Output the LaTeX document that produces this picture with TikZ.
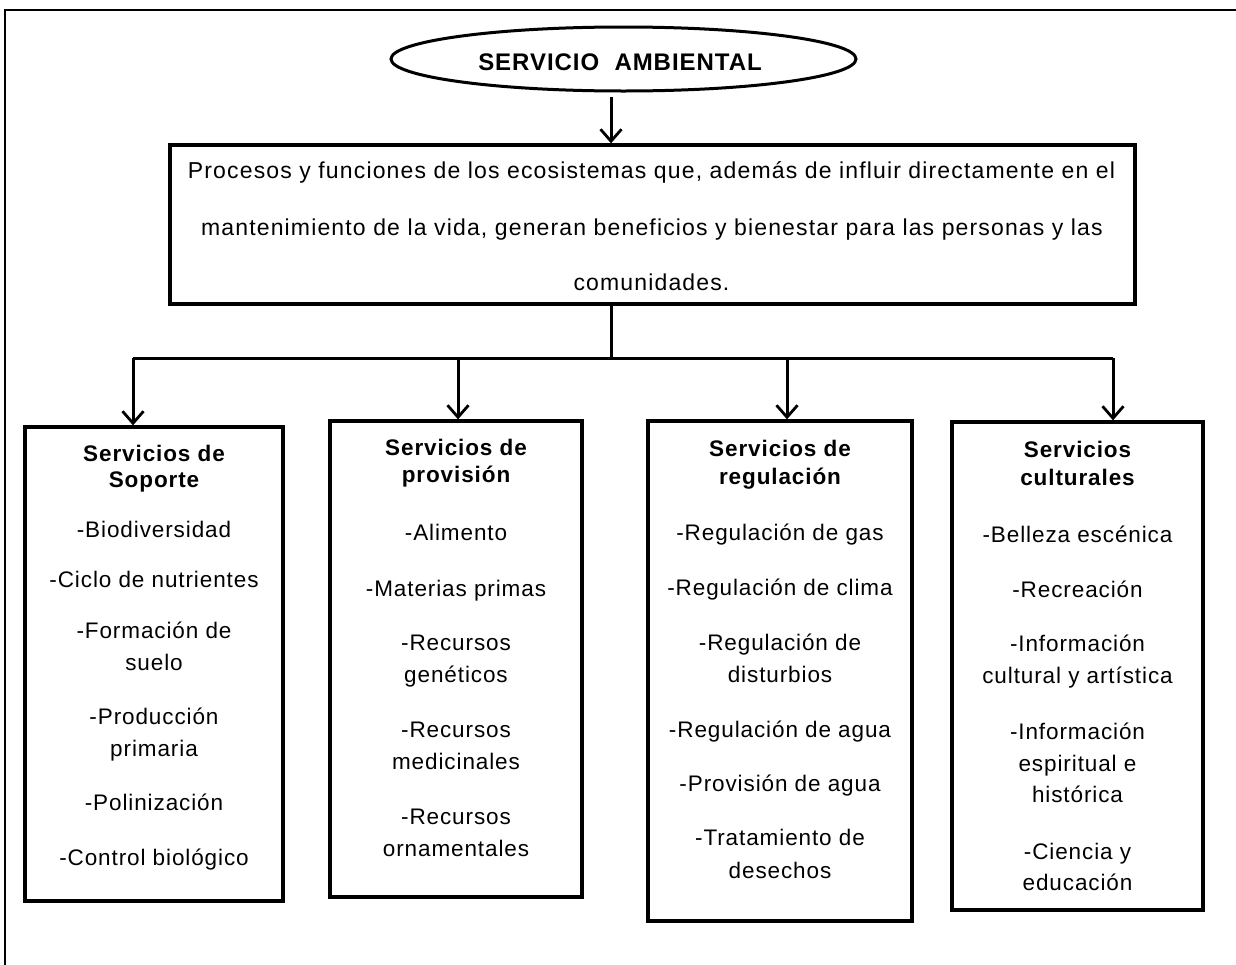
\documentclass[tikz,border=0pt]{standalone}
\usepackage{fontspec}
\setmainfont{Liberation Sans}
\newfontfamily\spacedf[LetterSpace=5]{Liberation Sans}
\newfontfamily\tightf[LetterSpace=4]{Liberation Sans}
\usetikzlibrary{arrows.meta,shapes.geometric}
\begin{document}
\begin{tikzpicture}[x=1pt,y=-1pt,
  frame/.style={line width=2pt},
  boxst/.style={draw,line width=3.3pt,rectangle,inner sep=0pt},
  conn/.style={line width=3pt},
  arr/.style={conn,-{Straight Barb[length=12pt,width=21pt,line width=2.8pt]}},
  mainst/.style={font=\fontsize{23}{27}\selectfont\spacedf, inner sep=0pt, anchor=base},
  item/.style={font=\fontsize{22.5}{26}\selectfont\tightf, inner sep=0pt, anchor=base},
  head/.style={font=\fontsize{22.5}{26}\selectfont\tightf\bfseries, inner sep=0pt, anchor=base},
  ttlst/.style={font=\fontsize{24}{28}\selectfont\tightf\bfseries, inner sep=0pt, anchor=base},
]
\useasboundingbox (0,0) rectangle (1236,964);
\fill[white] (0,0) rectangle (1236,964);
\draw[frame] (4.5,966) -- (4.5,10) -- (1238,10);

% title ellipse
\node[draw, ellipse, line width=3pt, minimum width=465pt, minimum height=64pt, inner sep=0pt] (ell) at (623.5,59) {};
\node[ttlst] (ttl) at (620,70) {SERVICIO\ \ AMBIENTAL};

% main box
\node[boxst, minimum width=965pt, minimum height=159pt] (main) at (652.5,224.5) {};
\node[mainst] (m1) at (651.5,178) {Procesos y funciones de los ecosistemas que, además de influir directamente en el};
\node[mainst] (m2) at (652,235) {mantenimiento de la vida, generan beneficios y bienestar para las personas y las};
\node[mainst] (m3) at (651.5,290) {comunidades.};

% category boxes
\node[boxst, minimum width=258pt, minimum height=474pt] (b1) at (154,664) {};
\node[boxst, minimum width=252pt, minimum height=476pt] (b2) at (456,659) {};
\node[boxst, minimum width=264pt, minimum height=500pt] (b3) at (780,671) {};
\node[boxst, minimum width=251pt, minimum height=488pt] (b4) at (1077.5,666) {};

% connectors
\coordinate (tr) at (611,358);
\coordinate (k1) at (133,358);
\coordinate (k2) at (458,358);
\coordinate (k3) at (787,358);
\coordinate (k4) at (1113,358);
\coordinate (es) at (611,97);
\draw[arr] (es) -- (es |- main.north);
\draw[conn] (main.south -| tr) -- (tr);
\draw[conn] (k1) -- (k4);
\draw[arr] (k1) -- (k1 |- b1.north);
\draw[arr] (k2) -- (k2 |- b2.north);
\draw[arr] (k3) -- (k3 |- b3.north);
\draw[arr] (k4) -- (k4 |- b4.north);

% box 1
\node[head] (b1h1) at (154,461) {Servicios de};
\node[head] (b1h2) at (154,487) {Soporte};
\foreach \t/\y [count=\i] in {-Biodiversidad/537, -Ciclo de nutrientes/587, -Formación de/638, suelo/670, -Producción/724, primaria/756, -Polinización/810, -Control biológico/865}
  \node[item] (b1i\i) at (154,\y) {\t};

% box 2
\node[head] (b2h1) at (456,455) {Servicios de};
\node[head] (b2h2) at (456,482) {provisión};
\foreach \t/\y [count=\i] in {-Alimento/540, -Materias primas/596, -Recursos/650, genéticos/682, -Recursos/737, medicinales/769, -Recursos/824, ornamentales/856}
  \node[item] (b2i\i) at (456,\y) {\t};

% box 3
\node[head] (b3h1) at (780,456) {Servicios de};
\node[head] (b3h2) at (780,484) {regulación};
\foreach \t/\y [count=\i] in {-Regulación de gas/540, -Regulación de clima/595, -Regulación de/650, disturbios/682, -Regulación de agua/737, -Provisión de agua/791, -Tratamiento de/845, desechos/878}
  \node[item] (b3i\i) at (780,\y) {\t};

% box 4
\node[head] (b4h1) at (1077.5,457) {Servicios};
\node[head] (b4h2) at (1077.5,485) {culturales};
\foreach \t/\y [count=\i] in {-Belleza escénica/542, -Recreación/597, -Información/651, cultural y artística/683, -Información/739, espiritual e/771, histórica/802, -Ciencia y/859, educación/890}
  \node[item] (b4i\i) at (1077.5,\y) {\t};
\end{tikzpicture}
\end{document}
